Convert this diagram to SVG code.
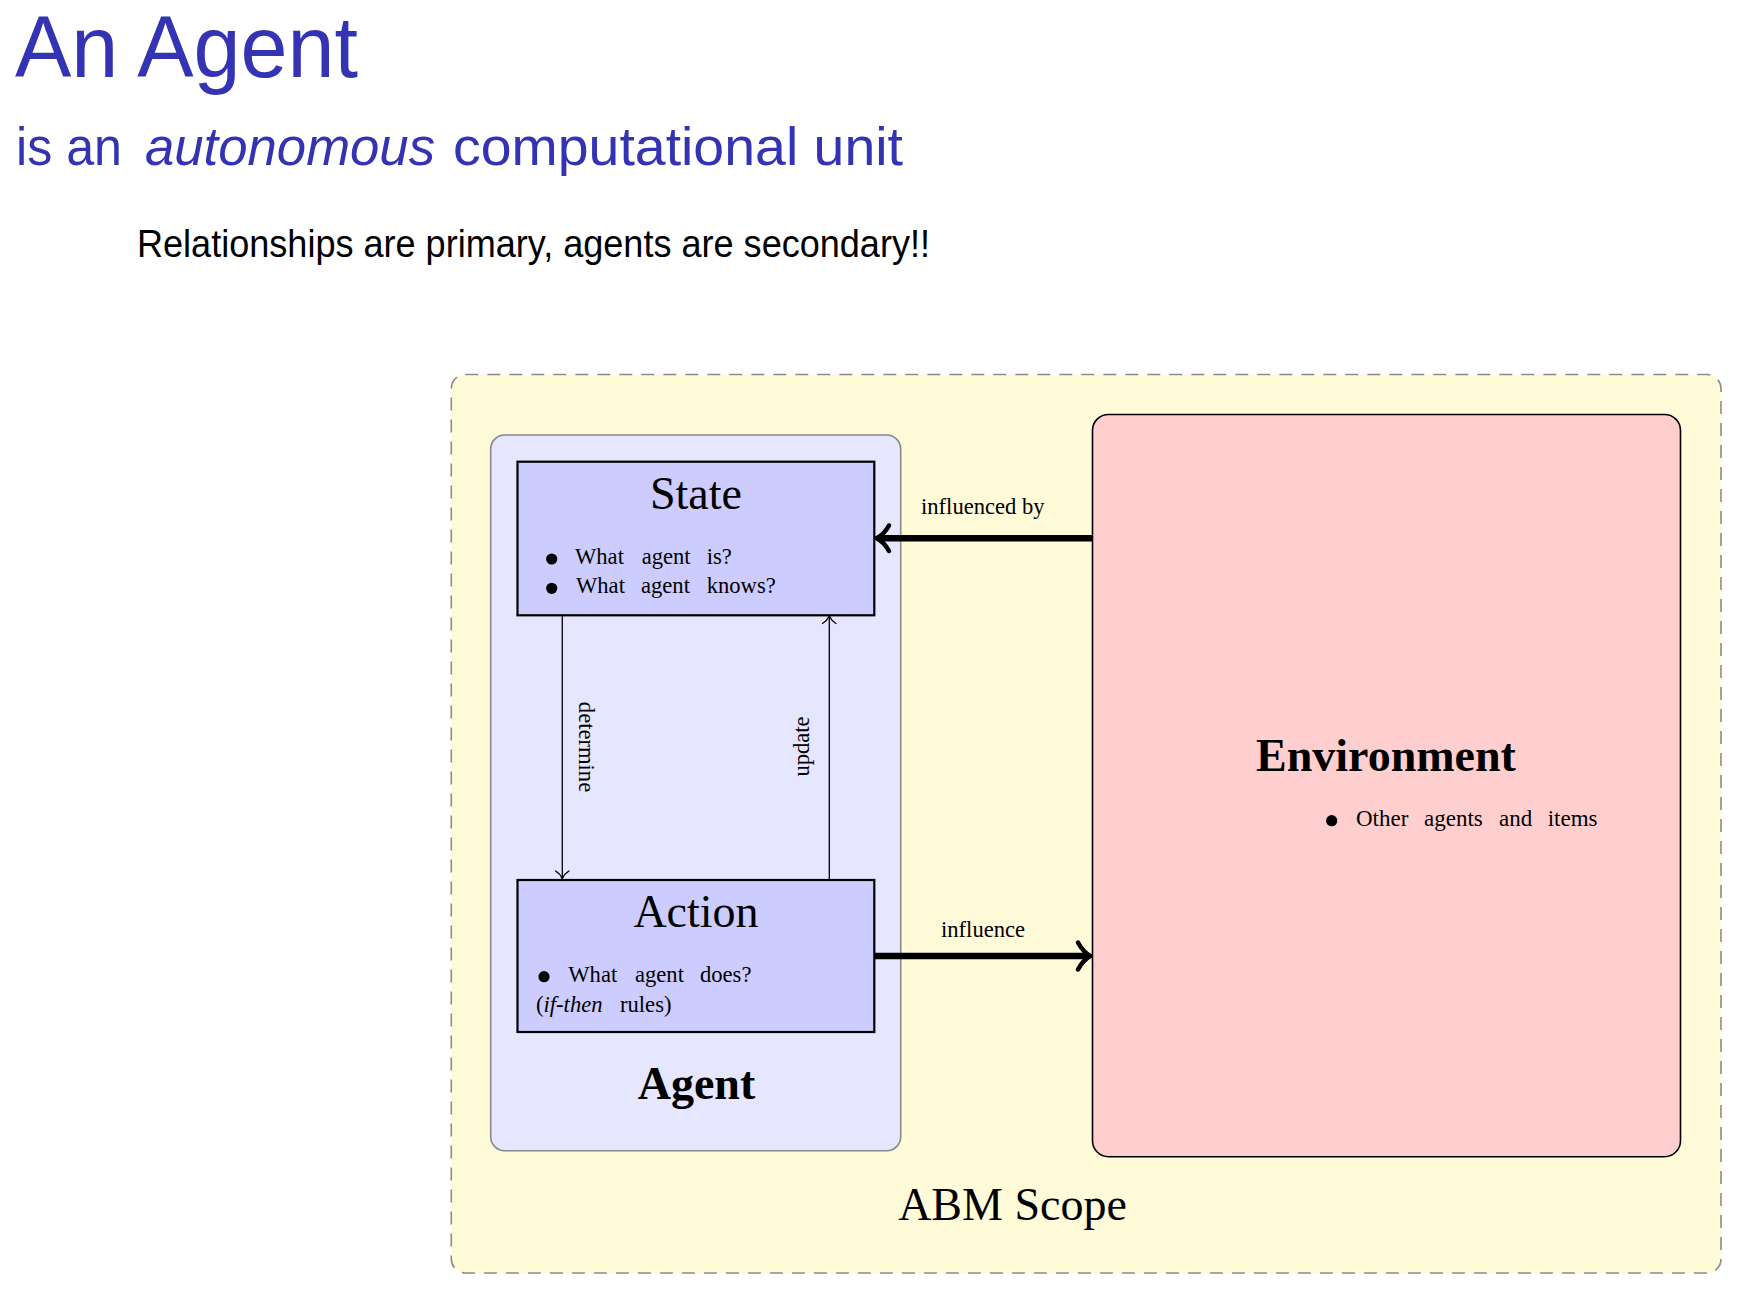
<svg xmlns="http://www.w3.org/2000/svg" width="1748" height="1302" viewBox="0 0 1748 1302">
<style>
.ttl{font-family:"Liberation Sans",Arial,sans-serif;fill:#3333B3}
.sub{font-family:"Liberation Sans",Arial,sans-serif;fill:#000}
.tm{font-family:"Liberation Serif","Times New Roman",serif;fill:#000}
.big{font-size:46px}
.sm{font-size:22.6px}
.bold{font-weight:bold}
.inner{fill:#CCCCFF;stroke:#000;stroke-width:2.2}
.thin{stroke:#000;stroke-width:1.3;fill:none}
.thick{stroke:#000;stroke-width:6.5;fill:none}
.headS{stroke:#000;stroke-width:1.3;fill:none;stroke-linecap:round;stroke-linejoin:round}
.headT{stroke:#000;stroke-width:4.5;fill:none;stroke-linecap:round;stroke-linejoin:round}
</style>
<rect width="1748" height="1302" fill="#fff"/>
<g id="titles">
<text class="ttl" x="15" y="77.3" font-size="88" textLength="343" lengthAdjust="spacingAndGlyphs">An Agent</text>
<text class="ttl" x="16" y="164.5" font-size="54" textLength="106" lengthAdjust="spacingAndGlyphs">is an</text>
<text class="ttl" x="145" y="164.5" font-size="54" font-style="italic" textLength="290" lengthAdjust="spacingAndGlyphs">autonomous</text>
<text class="ttl" x="453" y="164.5" font-size="54" textLength="450" lengthAdjust="spacingAndGlyphs">computational unit</text>
<text class="sub" x="137" y="256.7" font-size="38" textLength="793" lengthAdjust="spacingAndGlyphs">Relationships are primary, agents are secondary!!</text>
</g>
<g id="abm-scope">
<rect x="451.3" y="374.5" width="1269.7" height="898.5" rx="14" fill="#FFFBD9" stroke="#8C8C8C" stroke-width="1.6" stroke-dasharray="13 9"/>
<text class="tm big" x="1012.5" y="1220" text-anchor="middle">ABM Scope</text>
</g>
<g id="agent">
<rect x="490.7" y="435" width="410" height="715.7" rx="14" fill="#E6E6FF" stroke="#888" stroke-width="1.6"/>
<text class="tm big bold" x="696.5" y="1099.3" text-anchor="middle">Agent</text>
</g>
<g id="state">
<rect class="inner" x="517.5" y="461.7" width="356.8" height="153.6"/>
<text class="tm big" x="696" y="509.3" text-anchor="middle">State</text>
<circle cx="551.7" cy="559" r="5.6"/>
<circle cx="551.7" cy="588.3" r="5.6"/>
<text class="tm sm" y="564"><tspan x="575">What</tspan><tspan x="641.7">agent</tspan><tspan x="706.7">is?</tspan></text>
<text class="tm sm" y="593.3"><tspan x="576">What</tspan><tspan x="641">agent</tspan><tspan x="706.7">knows?</tspan></text>
</g>
<g id="action">
<rect class="inner" x="517.5" y="880" width="356.8" height="152"/>
<text class="tm big" x="696" y="926.7" text-anchor="middle">Action</text>
<circle cx="544" cy="976.7" r="5.6"/>
<text class="tm sm" y="981.7"><tspan x="568.3">What</tspan><tspan x="635">agent</tspan><tspan x="700">does?</tspan></text>
<text class="tm sm" y="1011.7"><tspan x="536">(</tspan><tspan font-style="italic">if-then</tspan><tspan x="620">rules)</tspan></text>
</g>
<g id="environment">
<rect x="1092.5" y="414.5" width="588" height="742.2" rx="16" fill="#FFCFCF" stroke="#000" stroke-width="1.6"/>
<text class="tm big bold" x="1386" y="770.7" text-anchor="middle">Environment</text>
<circle cx="1331.7" cy="820.7" r="5.6"/>
<text class="tm" font-size="23" y="826"><tspan x="1356">Other</tspan><tspan x="1424">agents</tspan><tspan x="1499">and</tspan><tspan x="1547.7">items</tspan></text>
</g>
<g id="connectors">
<line class="thin" x1="562.3" y1="615.3" x2="562.3" y2="878.5"/>
<path class="headS" d="M555.5,871 Q560,873.5 562.3,878.8 Q564.6,873.5 569,871"/>
<text class="tm sm" transform="translate(578.5,747) rotate(90)" text-anchor="middle">determine</text>
<line class="thin" x1="829.3" y1="880" x2="829.3" y2="616.5"/>
<path class="headS" d="M822.5,623.5 Q827,621 829.3,616 Q831.6,621 836,623.5"/>
<text class="tm sm" transform="translate(808.5,746.5) rotate(-90)" text-anchor="middle">update</text>
<line class="thick" x1="1092.5" y1="538.3" x2="878" y2="538.3"/>
<path class="headT" d="M889,525.5 Q884,534.5 876.5,538.3 Q884,542 889,551"/>
<text class="tm sm" x="921" y="514.3">influenced by</text>
<line class="thick" x1="874.3" y1="956" x2="1089" y2="956"/>
<path class="headT" d="M1078,942.5 Q1083,952 1090.5,956 Q1083,960 1078,969.5"/>
<text class="tm sm" x="941" y="936.7">influence</text>
</g>
</svg>
